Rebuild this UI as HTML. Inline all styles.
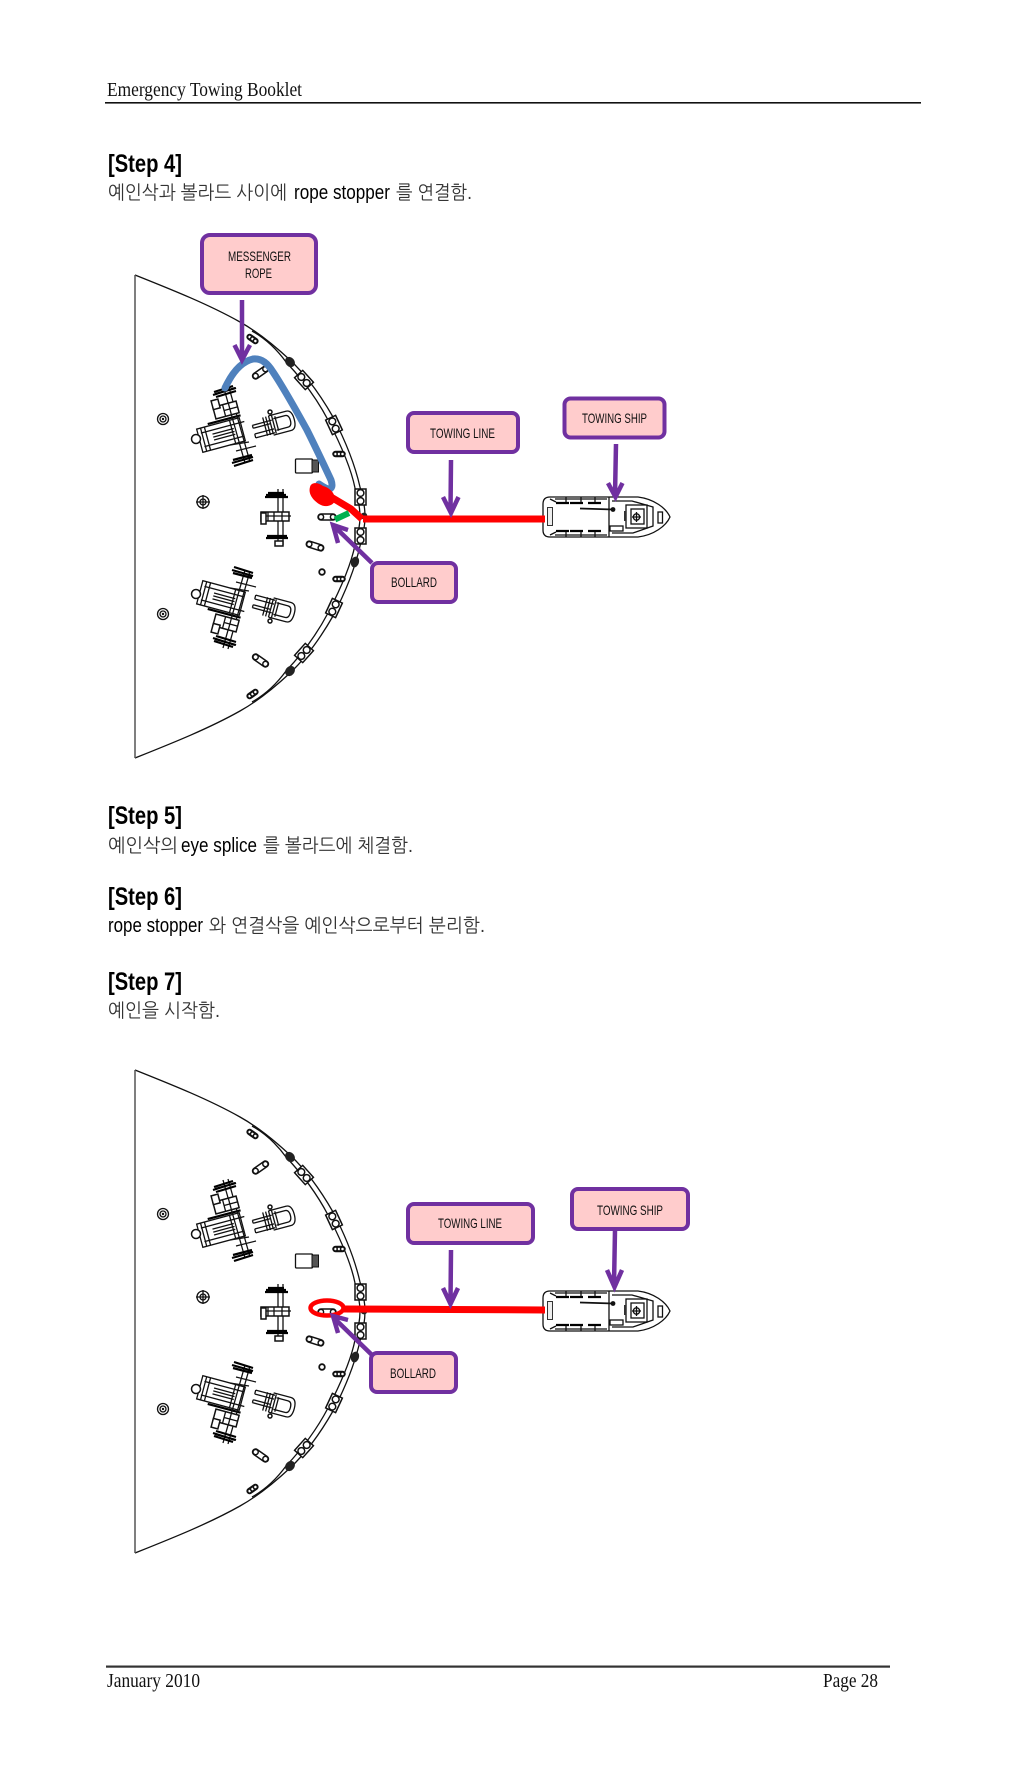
<!DOCTYPE html>
<html lang="ko">
<head>
<meta charset="utf-8">
<style>
html,body{margin:0;padding:0;background:#fff;width:1024px;height:1768px;overflow:hidden}
svg{display:block}
.h{font-family:"Liberation Serif",serif;font-size:20px;fill:#111}
.s{font-family:"Liberation Sans",sans-serif;font-size:25px;font-weight:700;fill:#000}
.en{font-family:"Liberation Sans",sans-serif;font-size:20px;fill:#000}
.ko{font-family:"Liberation Sans","NanumGothic","Noto Sans CJK KR",sans-serif;font-size:19px;fill:#333}
.l{font-family:"Liberation Sans",sans-serif;font-size:14px;fill:#111}
.box{fill:#ffcccc;stroke:#7030a0;stroke-width:4}
.arr{fill:none;stroke:#7030a0;stroke-width:4.5;stroke-linejoin:miter}
.t{fill:none;stroke:#111;stroke-width:1.3}
.h2{fill:none;stroke:#000;stroke-width:2.2}
.b{fill:#fff;stroke:#111;stroke-width:1.5}
</style>
</head>
<body>
<svg xmlns="http://www.w3.org/2000/svg" width="1024" height="1768" viewBox="0 0 1024 1768">
<defs>
  <g id="cap"><rect x="-9" y="-3" width="18" height="6" rx="3" class="b"/><circle cx="-6" cy="0" r="2.6" class="b"/><circle cx="6" cy="0" r="2.6" class="b"/></g>
  <g id="cap3"><rect x="-6" y="-2.5" width="12" height="5" rx="2.5" class="b"/><circle cx="-3.5" cy="0" r="2" class="b"/><circle cx="0" cy="0" r="2" class="b"/><circle cx="3.5" cy="0" r="2" class="b"/></g>
  <g id="fit"><rect x="-8" y="-5.5" width="16" height="11" class="b"/><circle cx="-4" cy="0" r="3.4" class="b" stroke-width="1.9"/><circle cx="4" cy="0" r="3.4" class="b" stroke-width="1.9"/></g>
  <g id="half">
    <path d="M135 275C170 289 208 304 240 322C258 332 275 346 290 360C307 376 321 396 333 417C345 440 355 465 360 487C363 497 365 507 365 516.5" class="t"/>
    <path d="M252 331C268 340 278 351 286 362C303 380 317 399 328 420C341 445 351 468 355 488C358 498 360 508 360 516.5" class="t"/>
    <ellipse cx="290" cy="362" rx="4.5" ry="5.5" fill="#222" transform="rotate(-40 290 362)"/>
    <use href="#fit" transform="translate(304 380) rotate(48)"/>
    <use href="#fit" transform="translate(334 425) rotate(65)"/>
    <use href="#fit" transform="translate(360.5 497) rotate(90)"/>
    <use href="#cap3" transform="translate(252.5 339) rotate(35)"/>
    <use href="#cap" transform="translate(260.5 372.5) rotate(-35)"/>
    <use href="#cap3" transform="translate(339 454)"/>
    <circle cx="163" cy="419" r="5.5" class="t" stroke-width="1.8"/><circle cx="163" cy="419" r="3" class="t"/><circle cx="163" cy="419" r="1.2" fill="#111"/>
    <!-- big winch -->
    <g transform="translate(221 435) rotate(-15)">
      <rect x="-22" y="-12" width="44" height="24" class="t" stroke-width="2"/>
      <path d="M-19-7H26M-19 7H22M-14-12V12M-18-12V12M12-12V12" class="t"/>
      <path d="M-8-3H14M-8 0H14M-8 3H14" class="t" stroke-width="2"/>
      <path d="M-10-14H24" class="h2"/>
    </g>
    <circle cx="196" cy="439" r="4.5" class="b"/>
    <path d="M223 385L245 463M228 384L250 462" class="t"/>
    <path d="M213 395L235 388M214 392L233 386M216 397L236 391M215 394L236 388" class="h2"/>
    <path d="M232 463L253 457M233 460L252 455M234 466L253 460" class="h2"/>
    <path d="M230 445L249 442" class="t"/><path d="M236 451L256 446" class="t"/>
    <g transform="translate(226 410) rotate(-15)">
      <rect x="-12" y="-6" width="24" height="12" class="b"/>
      <path d="M-2-6V6M4-6V6M-2 0H12" class="t"/>
    </g>
    <rect x="212" y="400" width="7" height="9" class="b" transform="rotate(-15 215 404)"/>
    <!-- second winch -->
    <g transform="translate(273 425) rotate(-15)">
      <path d="M-2-10H16Q22-10 22 0Q22 10 16 10H-2" class="t"/>
      <path d="M2-6H14Q18-6 18 0Q18 6 14 6H2" class="t"/>
      <path d="M-20-5H0M-20-2H-2M-20 4H0M-20 8H0M-20-5V-2M-20 4V8" class="t"/>
      <path d="M-8-10V9M-5-10V9M-2-10V9M1-10V9M4-8V7" class="t" stroke-width="1.9"/>
    </g>
    <circle cx="270" cy="412" r="2" class="b"/>
  </g>
  <g id="deck">
    <use href="#half"/>
    <use href="#half" transform="matrix(1 0 0 -1 0 1033)"/>
    <path d="M135 275V758" fill="none" stroke="#555" stroke-width="1.5"/>
    <use href="#cap" transform="translate(327 517)"/>
    <use href="#cap" transform="translate(315 546) rotate(18)"/>
    <circle cx="322" cy="572" r="2.8" fill="#fff" stroke="#111" stroke-width="1.8"/>
    <ellipse cx="355" cy="562" rx="4" ry="5.5" fill="#222" transform="rotate(18 355 562)"/>
    <circle cx="364" cy="516" r="3.4" fill="#222"/>
    <!-- cabin -->
    <rect x="295.5" y="459" width="17" height="14" rx="1" class="t" stroke-width="1.8"/>
    <rect x="312" y="460" width="6.5" height="12" fill="#555" stroke="#111"/>
    <!-- target -->
    <circle cx="203" cy="502" r="6" class="t" stroke-width="1.5"/><circle cx="203" cy="502" r="3" class="t"/>
    <path d="M196 502H210M203 495V509" class="t"/>
    <!-- centre winch -->
    <path d="M278 489V545M283 489V545" class="t"/>
    <path d="M265 497H288M266 495H286M268 493H284M266 538H288M267 536H287" class="h2"/>
    <rect x="261" y="512" width="28" height="9" class="b"/>
    <path d="M268 512V521M274 512V521M282 512V521M261 516H291" class="t"/>
    <rect x="261" y="513" width="5" height="11" class="b"/>
    <rect x="275" y="541" width="8" height="5" class="b"/>
  </g>
  <g id="ship">
    <path d="M550 497H638C654 499 666 508 670 517C666 526 654 535 638 537H550Q543 537 543 530V504Q543 497 550 497Z" class="t" stroke-width="1.5"/>
    <path d="M609 497V537M550 499L556 502M550 535L556 532" class="t"/>
    <path d="M556 503H569M570 503H583M588 503H601M556 531H569M570 531H583M588 531H601" class="h2"/>
    <path d="M566 497V502M581 497V502M595 497V502M566 532V537M581 532V537M595 532V537M555 499H607M555 535H607" class="t"/>
    <path d="M580 508.5L613 509.5" fill="none" stroke="#111" stroke-width="1.8"/>
    <circle cx="613" cy="509.5" r="2.4" fill="#111"/>
    <rect x="547.5" y="507.5" width="5" height="18" fill="#eee" stroke="#333"/>
    <rect x="658" y="512" width="4.5" height="11" class="t"/>
    <path d="M612 501H632L653 507V526L633 533H612" class="t"/>
    <rect x="626" y="505" width="21" height="23" class="t" stroke-width="1.5"/>
    <rect x="631" y="509" width="13" height="15" class="t"/>
    <circle cx="636.5" cy="517" r="3.2" class="t"/><path d="M636.5 512V522M632 517H641" class="t"/>
    <rect x="610" y="526" width="13" height="5" class="t"/>
    <rect x="624" y="511" width="2" height="10" fill="#333"/>
  </g>
</defs>

<!-- header -->
<text class="h" x="107" y="96" textLength="195" lengthAdjust="spacingAndGlyphs">Emergency Towing Booklet</text>
<rect x="105" y="102" width="816" height="1.6" fill="#111"/>

<text class="s" x="108" y="172" textLength="74" lengthAdjust="spacingAndGlyphs">[Step 4]</text>
<text class="ko" x="108" y="199" textLength="179" lengthAdjust="spacingAndGlyphs">예인삭과 볼라드 사이에</text>
<text class="en" x="294" y="199" textLength="96" lengthAdjust="spacingAndGlyphs">rope stopper</text>
<text class="ko" x="396" y="199" textLength="76" lengthAdjust="spacingAndGlyphs">를 연결함.</text>

<!-- diagram 1 -->
<use href="#deck"/>
<use href="#ship"/>
<path d="M225 388C231 375 240 362 253 359C262 358 268 364 273 372C285 390 297 412 307 430C316 448 324 465 331 480C333 486 332 489 328 489C325 488 322 486 319 484" fill="none" stroke="#4f81bd" stroke-width="7" stroke-linecap="round"/>
<path d="M310 487C311 482 318 482 323 486C330 488 335 493 335 500C334 506 325 508 319 504C313 500 308 494 310 487Z" fill="#f00"/>
<path d="M363 519H545M331 497L351 509L362 519" fill="none" stroke="#f00" stroke-width="7"/>
<path d="M335 519.5L349 513" fill="none" stroke="#00b050" stroke-width="6"/>

<rect x="202" y="235" width="114" height="58" rx="8" class="box"/>
<text class="l" x="228" y="261" textLength="63" lengthAdjust="spacingAndGlyphs">MESSENGER</text>
<text class="l" x="245" y="278" textLength="27" lengthAdjust="spacingAndGlyphs">ROPE</text>
<path d="M242 300V358M234.5 345L242 360L250 345" class="arr"/>

<rect x="408" y="413" width="110" height="39" rx="6" class="box"/>
<text class="l" x="430" y="438" textLength="65" lengthAdjust="spacingAndGlyphs">TOWING LINE</text>
<path d="M451 460L450.5 511M443 497L451 513L458.5 497" class="arr"/>

<rect x="564.5" y="398.5" width="100" height="39" rx="6" class="box"/>
<text class="l" x="582" y="423" textLength="65" lengthAdjust="spacingAndGlyphs">TOWING SHIP</text>
<path d="M616 444L615 495M608 483L615.5 497L622.5 483" class="arr"/>

<path d="M372 563L335 527M348 530L333 525L338 543" class="arr"/>
<rect x="372" y="563" width="84" height="39" rx="6" class="box"/>
<text class="l" x="391" y="587" textLength="46" lengthAdjust="spacingAndGlyphs">BOLLARD</text>

<!-- steps -->
<text class="s" x="108" y="824" textLength="74" lengthAdjust="spacingAndGlyphs">[Step 5]</text>
<text class="ko" x="108" y="852" textLength="70" lengthAdjust="spacingAndGlyphs">예인삭의</text>
<text class="en" x="181" y="852" textLength="76" lengthAdjust="spacingAndGlyphs">eye splice</text>
<text class="ko" x="263" y="852" textLength="150" lengthAdjust="spacingAndGlyphs">를 볼라드에 체결함.</text>

<text class="s" x="108" y="905" textLength="74" lengthAdjust="spacingAndGlyphs">[Step 6]</text>
<text class="en" x="108" y="932" textLength="95" lengthAdjust="spacingAndGlyphs">rope stopper</text>
<text class="ko" x="209" y="932" textLength="276" lengthAdjust="spacingAndGlyphs">와 연결삭을 예인삭으로부터 분리함.</text>

<text class="s" x="108" y="990" textLength="74" lengthAdjust="spacingAndGlyphs">[Step 7]</text>
<text class="ko" x="108" y="1017" textLength="112" lengthAdjust="spacingAndGlyphs">예인을 시작함.</text>

<!-- diagram 2 -->
<use href="#deck" transform="translate(0 795)"/>
<use href="#ship" transform="translate(0 794)"/>
<ellipse cx="327" cy="1308" rx="16.5" ry="7.5" fill="none" stroke="#f00" stroke-width="4.5"/>
<path d="M343 1309L450 1309.500L545 1310" fill="none" stroke="#f00" stroke-width="7"/>

<rect x="408" y="1204" width="125" height="39" rx="6" class="box"/>
<text class="l" x="438" y="1228" textLength="64" lengthAdjust="spacingAndGlyphs">TOWING LINE</text>
<path d="M451 1250L450.5 1302M443 1288L450.5 1304L458 1288" class="arr"/>

<rect x="572" y="1189" width="116" height="40" rx="6" class="box"/>
<text class="l" x="597" y="1215" textLength="66" lengthAdjust="spacingAndGlyphs">TOWING SHIP</text>
<path d="M615 1230L614 1285M607 1270L614.5 1287L622 1270" class="arr"/>

<path d="M372 1355L335 1319M348 1320L333 1316L338 1333" class="arr"/>
<rect x="371" y="1353" width="85" height="39" rx="6" class="box"/>
<text class="l" x="390" y="1378" textLength="46" lengthAdjust="spacingAndGlyphs">BOLLARD</text>

<!-- footer -->
<rect x="106" y="1665.500" width="784" height="2.2" fill="#333"/>
<text class="h" x="107" y="1687" textLength="93" lengthAdjust="spacingAndGlyphs">January 2010</text>
<text class="h" x="823" y="1687" textLength="55" lengthAdjust="spacingAndGlyphs">Page 28</text>
</svg>
</body>
</html>
